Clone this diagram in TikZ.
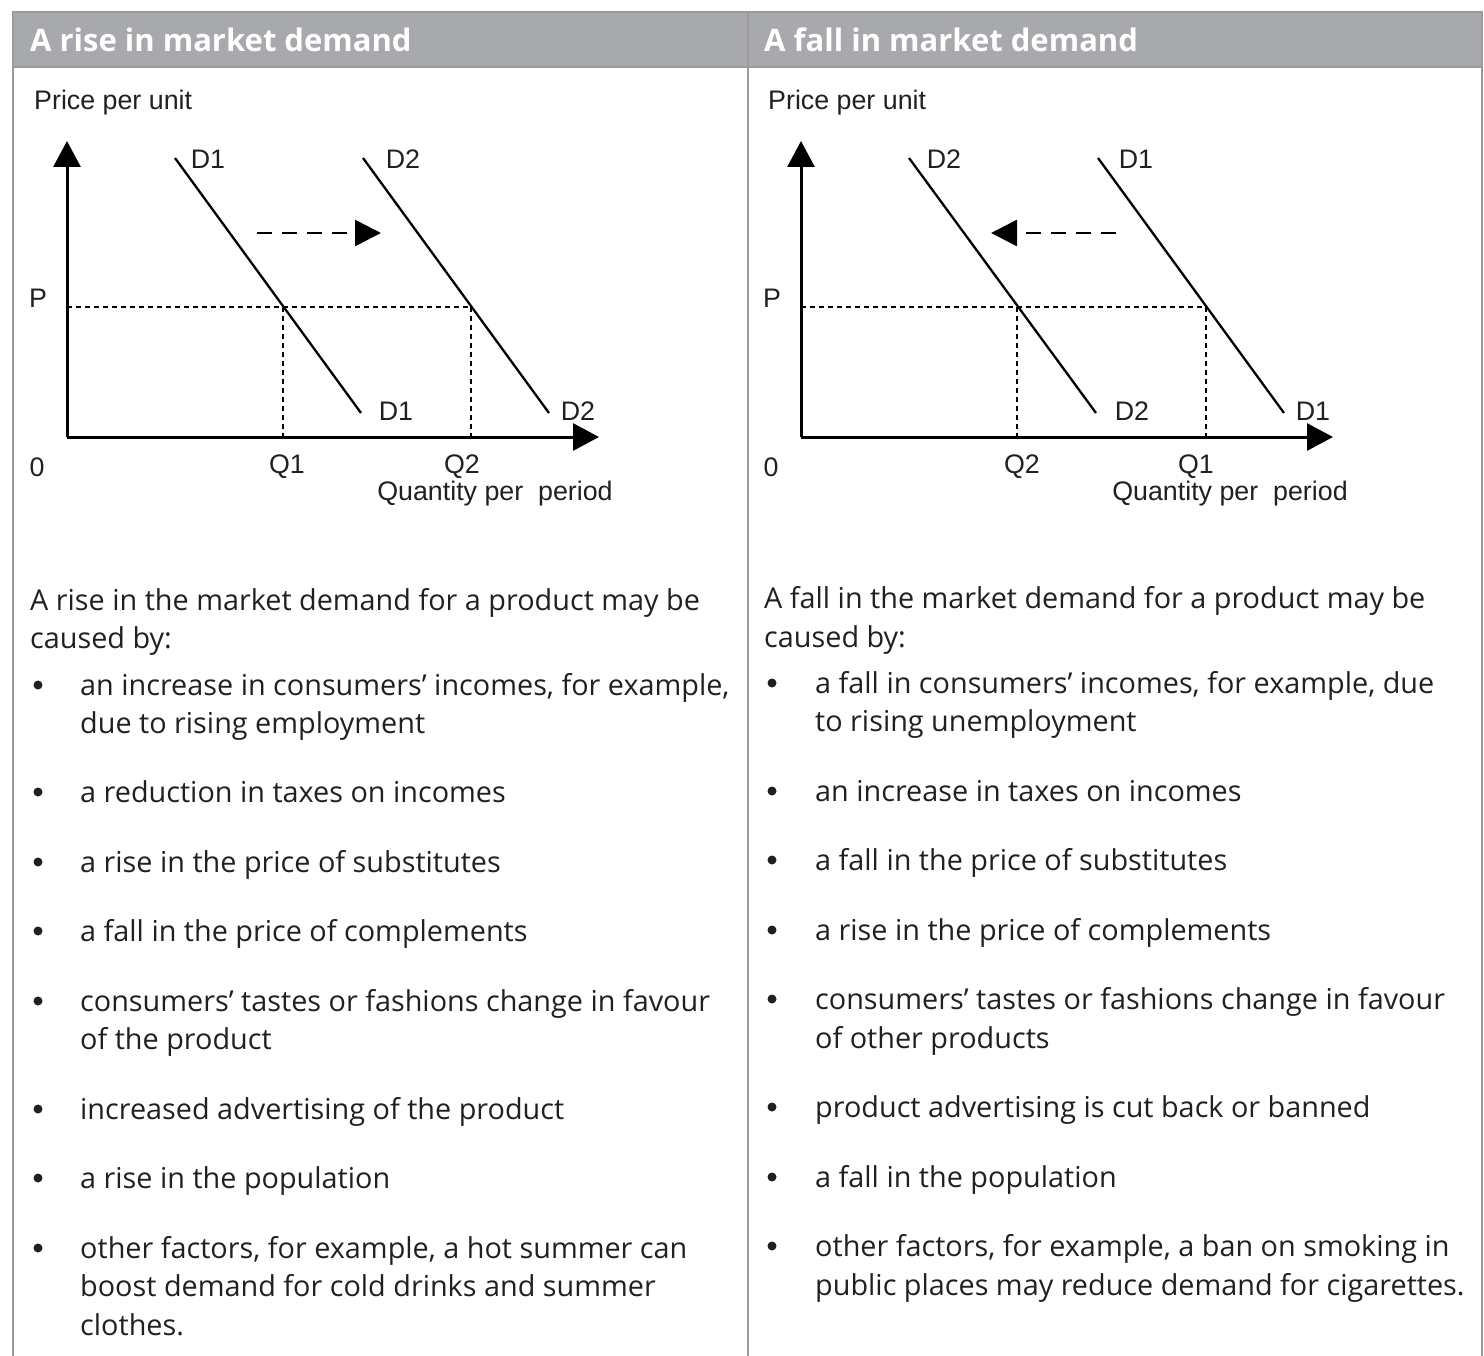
\documentclass[tikz,border=0pt]{standalone}
\usepackage{fontspec}
\setmainfont{Open Sans}
\newfontfamily\graphfont{Liberation Sans}
\usetikzlibrary{arrows.meta}
\definecolor{hdr}{HTML}{A7A9AC}
\definecolor{rule}{HTML}{9A9A9A}
\definecolor{ink}{HTML}{231F20}
\tikzset{
  hdrtext/.style={anchor=west,inner sep=0pt,text=white,font=\fontsize{31}{36}\selectfont\bfseries},
  gl/.style={inner sep=0pt,font=\graphfont\fontsize{26.8}{30}\selectfont,text=ink},
  bt/.style={anchor=base west,inner sep=0pt,font=\fontsize{28.8}{38}\selectfont,text=ink},
  bul/.style={circle,fill=ink,inner sep=0pt,minimum size=9pt},
  axis/.style={line width=3pt,-{Triangle[length=26pt,width=27pt]}},
  curve/.style={line width=2.3pt},
  guide/.style={line width=2.5pt,dash pattern=on 5pt off 4pt},
  shiftarrow/.style={line width=2.5pt,dash pattern=on 15pt off 10pt,-{Triangle[length=26pt,width=26pt]}}
}
\begin{document}
\begin{tikzpicture}[x=1pt,y=-1pt]
\useasboundingbox (0,0) rectangle (1484,1356);
% frame
\fill[hdr] (13,12) rectangle (1482,67);
\draw[rule,line width=1.5pt] (13,1356) -- (13,12) -- (1482,12) -- (1482,1356);
\draw[rule,line width=1.5pt] (13,67) -- (1482,67);
\draw[rule,line width=1.5pt] (748,12) -- (748,1356);
\node[hdrtext] (h1) at (30,40) {A rise in market demand};
\node[hdrtext] (h2) at (764,40) {A fall in market demand};

% ===== left graph =====
\coordinate (o1) at (67,437);
\coordinate (yt1) at (67,141);
\coordinate (xt1) at (599,437);
\draw[axis] (o1) -- (yt1);
\draw[axis] (o1) -- (xt1);
\coordinate (a1t) at (175,158); \coordinate (a1b) at (361,413);
\coordinate (b1t) at (363,158); \coordinate (b1b) at (549,413);
\draw[curve] (a1t) -- (a1b);
\draw[curve] (b1t) -- (b1b);
\coordinate (p1) at (67,307);
\coordinate (e1a) at (283,307);
\coordinate (e1b) at (471,307);
\coordinate (q1a) at (283,437);
\coordinate (q1b) at (471,437);
\draw[guide] (p1) -- (e1b);
\draw[guide] (e1a) -- (q1a);
\draw[guide] (e1b) -- (q1b);
\coordinate (s1a) at (257,233); \coordinate (s1b) at (381,233);
\draw[shiftarrow] (s1a) -- (s1b);
\node[gl,anchor=west] (ppu1) at (34,103) {Price per unit};
\node[gl] (lp1) at (38,298) {P};
\node[gl] (l01) at (37,467) {0};
\node[gl] (lq11) at (287,467) {Q1};
\node[gl] (lq21) at (462,467) {Q2};
\node[gl] (lqp1) at (495,494) {Quantity per\ \ period};
\node[gl] (ld1t) at (208,159) {D1};
\node[gl] (ld2t) at (403,159) {D2};
\node[gl] (ld1b) at (396,411) {D1};
\node[gl] (ld2b) at (578,411) {D2};

% ===== right graph =====
\coordinate (o2) at (801,437);
\coordinate (yt2) at (801,141);
\coordinate (xt2) at (1333,437);
\draw[axis] (o2) -- (yt2);
\draw[axis] (o2) -- (xt2);
\coordinate (a2t) at (909,158); \coordinate (a2b) at (1096,413);
\coordinate (b2t) at (1098,158); \coordinate (b2b) at (1284,413);
\draw[curve] (a2t) -- (a2b);
\draw[curve] (b2t) -- (b2b);
\coordinate (p2) at (801,307);
\coordinate (e2a) at (1017,307);
\coordinate (e2b) at (1206,307);
\coordinate (q2a) at (1017,437);
\coordinate (q2b) at (1206,437);
\draw[guide] (p2) -- (e2b);
\draw[guide] (e2a) -- (q2a);
\draw[guide] (e2b) -- (q2b);
\coordinate (s2a) at (1116,233); \coordinate (s2b) at (991,233);
\draw[shiftarrow] (s2a) -- (s2b);
\node[gl,anchor=west] (ppu2) at (768,103) {Price per unit};
\node[gl] (lp2) at (772,298) {P};
\node[gl] (l02) at (771,467) {0};
\node[gl] (lq22) at (1022,467) {Q2};
\node[gl] (lq12) at (1196,467) {Q1};
\node[gl] (lqp2) at (1230,494) {Quantity per\ \ period};
\node[gl] (rd2t) at (944,159) {D2};
\node[gl] (rd1t) at (1136,159) {D1};
\node[gl] (rd2b) at (1132,411) {D2};
\node[gl] (rd1b) at (1313,411) {D1};

% ===== left text =====
\node[bt] (lt1) at (30,610) {A rise in the market demand for a product may be};
\node[bt] (lt2) at (30,648) {caused by:};
\foreach \y/\t [count=\i] in {695/{an increase in consumers’ incomes, for example,},
  733/{due to rising employment},
  802/{a reduction in taxes on incomes},
  872/{a rise in the price of substitutes},
  941/{a fall in the price of complements},
  1011/{consumers’ tastes or fashions change in favour},
  1049/{of the product},
  1119/{increased advertising of the product},
  1188/{a rise in the population},
  1258/{other factors, for example, a hot summer can},
  1296/{boost demand for cold drinks and summer},
  1335/{clothes.}}
  \node[bt] (li\i) at (80,\y) {\t};
\foreach \y [count=\i] in {685,792,862,931,1001,1109,1178,1248}
  \node[bul] (lb\i) at (38,\y) {};

% ===== right text =====
\node[bt] (rt1) at (764,608) {A fall in the market demand for a product may be};
\node[bt] (rt2) at (764,647) {caused by:};
\foreach \y/\t [count=\i] in {693/{a fall in consumers’ incomes, for example, due},
  731/{to rising unemployment},
  801/{an increase in taxes on incomes},
  870/{a fall in the price of substitutes},
  940/{a rise in the price of complements},
  1009/{consumers’ tastes or fashions change in favour},
  1048/{of other products},
  1117/{product advertising is cut back or banned},
  1187/{a fall in the population},
  1256/{other factors, for example, a ban on smoking in},
  1295/{public places may reduce demand for cigarettes.}}
  \node[bt] (ri\i) at (815,\y) {\t};
\foreach \y [count=\i] in {683,791,860,930,999,1107,1177,1246}
  \node[bul] (rb\i) at (772,\y) {};
\end{tikzpicture}
\end{document}
